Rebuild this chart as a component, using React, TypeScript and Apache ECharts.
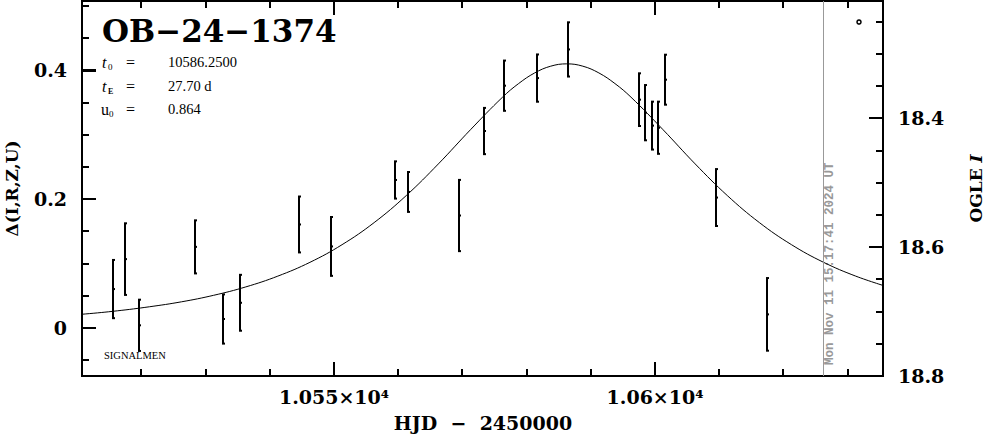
import React, { useEffect, useRef } from "react";
import * as echarts from "echarts";

// Observations (HJD - 2450000, magnitude excess, 1-sigma error)
const obsHJD = [10515.53, 10517.49, 10519.58, 10528.4, 10532.66, 10535.4, 10544.55, 10549.49, 10559.5, 10561.53, 10569.52, 10573.36, 10576.53, 10581.57, 10586.45, 10597.55, 10598.49, 10599.58, 10600.51, 10601.51, 10609.5, 10617.49];
const obsDelta = [0.0605, 0.107, 0.0042, 0.126, 0.014, 0.0392, 0.1608, 0.1267, 0.2299, 0.2113, 0.1747, 0.3059, 0.3763, 0.3881, 0.4326, 0.3546, 0.3344, 0.3143, 0.311, 0.3856, 0.2026, 0.0212];
const obsErr = [0.0452, 0.0556, 0.0398, 0.0412, 0.0382, 0.0434, 0.0434, 0.0457, 0.0289, 0.031, 0.0553, 0.0359, 0.039, 0.0367, 0.0421, 0.0409, 0.0429, 0.0372, 0.0405, 0.0388, 0.0442, 0.0564];

// Model light curve
const modelHJD = [10506.25, 10511.25, 10516.25, 10521.25, 10526.25, 10531.25, 10536.25, 10541.25, 10546.25, 10551.25, 10556.25, 10561.25, 10566.25, 10571.25, 10576.25, 10578.75, 10581.25, 10583.75, 10586.25, 10588.75, 10591.25, 10593.75, 10596.25, 10601.25, 10606.25, 10611.25, 10616.25, 10621.25, 10626.25, 10631.25, 10636.25];
const modelDelta = [0.018, 0.0218, 0.0267, 0.033, 0.0407, 0.0508, 0.0638, 0.0806, 0.102, 0.1294, 0.1637, 0.2057, 0.2548, 0.3079, 0.3585, 0.3796, 0.3961, 0.4066, 0.4102, 0.4066, 0.3961, 0.3796, 0.3585, 0.3079, 0.2548, 0.2057, 0.1637, 0.1294, 0.102, 0.0806, 0.0638];

// Current time marker
const nowHJD = 10626.14;
const nowLabel = "Mon Nov 11 15:17:41 2024 UT";

// Axes
const xMin = 10510.75;
const xMax = 10635.5;
const xMajor = [10550, 10600];
const xMinor = [10520, 10530, 10540, 10560, 10570, 10580, 10590, 10610, 10620, 10630];
const deltaMin = -0.0745;
const deltaMax = 0.5078;
const deltaMajor = [0, 0.2, 0.4];
const deltaMinor = [-0.05, 0.05, 0.1, 0.15, 0.25, 0.3, 0.35, 0.45, 0.5];
const magMax = 18.8; // OGLE I at the bottom of the frame (delta = deltaMin)
const magMajor = [18.4, 18.6, 18.8];
const magMinor = [18.25, 18.3, 18.35, 18.45, 18.5, 18.55, 18.65, 18.7, 18.75];

const title = "OB\u221224\u22121374";
const paramT0 = "10586.2500";
const paramTE = "27.70 d";
const paramU0 = "0.864";

const SERIF_B = "'DejaVu Serif', serif";
const SERIF = "'Liberation Serif', 'Times New Roman', serif";

const CHART_W = 986;
const CHART_H = 434;
const MAJOR_LEN = 14;
const MINOR_LEN = 7;

export default function App() {
  const ref = useRef<HTMLDivElement>(null);

  useEffect(() => {
    if (!ref.current) return;
    const chart = echarts.init(ref.current, null, { renderer: "svg" });

    const labelFont = { color: "#000", fontFamily: SERIF_B, fontWeight: "bold", fontSize: 19 };
    const magZero = magMax + deltaMin; // delta = magZero - mag

    // tick items: [x, y, side, length]; side 0 bottom, 1 top, 2 left, 3 right
    const tickItems: number[][] = [];
    const yIn = 0.2;
    const xIn = 10570;
    xMajor.forEach((v) => { tickItems.push([v, yIn, 0, MAJOR_LEN]); tickItems.push([v, yIn, 1, MAJOR_LEN]); });
    xMinor.forEach((v) => { tickItems.push([v, yIn, 0, MINOR_LEN]); tickItems.push([v, yIn, 1, MINOR_LEN]); });
    deltaMajor.forEach((d) => tickItems.push([xIn, d, 2, MAJOR_LEN]));
    deltaMinor.forEach((d) => tickItems.push([xIn, d, 2, MINOR_LEN]));
    magMajor.forEach((m) => tickItems.push([xIn, magZero - m, 3, MAJOR_LEN]));
    magMinor.forEach((m) => tickItems.push([xIn, magZero - m, 3, MINOR_LEN]));

    const tickEnds = (coord: (p: number[]) => number[], item: number[]) => {
      const [x, y, o, len] = item;
      if (o === 0) { const p = coord([x, deltaMin]); const xx = Math.round(p[0]); return [xx, p[1], xx, p[1] - len]; }
      if (o === 1) { const p = coord([x, deltaMax]); const xx = Math.round(p[0]); return [xx, p[1], xx, p[1] + len]; }
      if (o === 2) { const p = coord([xMin, y]); const yy = Math.round(p[1]); return [p[0], yy, p[0] + len, yy]; }
      const p = coord([xMax, y]); const yy = Math.round(p[1]); return [p[0], yy, p[0] - len, yy];
    };

    const errData = obsHJD.map((t, i) => [t, obsDelta[i], obsErr[i]]);
    const modelData = modelHJD.map((t, i) => [t, modelDelta[i]]);

    chart.setOption({
      animation: false,
      backgroundColor: "#fff",
      grid: { left: 82, right: 103, top: 1, bottom: 58, show: true, borderColor: "#000", borderWidth: 2, backgroundColor: "transparent" },
      xAxis: {
        type: "value",
        min: xMin,
        max: xMax,
        axisLine: { show: true, onZero: false, lineStyle: { color: "#000", width: 2 } },
        axisTick: { show: true, inside: true, length: MAJOR_LEN, customValues: xMajor, lineStyle: { color: "#000", width: 2 } },
        axisLabel: {
          customValues: xMajor,
          margin: 11,
          ...labelFont,
          formatter: (v: number) => `${v / 10000}\u00d710\u2074`,
        },
        splitLine: { show: false },
      },
      yAxis: {
        type: "value",
        min: deltaMin,
        max: deltaMax,
        axisLine: { show: true, onZero: false, lineStyle: { color: "#000", width: 2 } },
        axisTick: { show: true, inside: true, length: MAJOR_LEN, customValues: deltaMajor, lineStyle: { color: "#000", width: 2 } },
        axisLabel: {
          customValues: deltaMajor,
          margin: 15,
          ...labelFont,
          formatter: (v: number) => (v === 0 ? "0" : v.toFixed(1)),
        },
        splitLine: { show: false },
      },
      series: [
        {
          type: "line",
          data: modelData,
          smooth: 0.4,
          showSymbol: false,
          symbol: "none",
          lineStyle: { color: "#000", width: 1 },
          markLine: {
            symbol: "none",
            label: { show: false },
            data: [{ xAxis: nowHJD, lineStyle: { color: "#999", width: 1, type: "solid" } }],
          },
        },
        {
          type: "custom",
          data: errData,
          renderItem: (_params: any, api: any) => {
            const t = api.value(0);
            const d = api.value(1);
            const e = api.value(2);
            const top = api.coord([t, d + e]);
            const bot = api.coord([t, d - e]);
            const mid = api.coord([t, d]);
            const st = { stroke: "#000", lineWidth: 2 };
            const xx = Math.round(top[0]);
            return {
              type: "group",
              children: [
                { type: "line", shape: { x1: xx, y1: top[1], x2: xx, y2: bot[1] }, style: st },
                { type: "line", shape: { x1: xx - 1, y1: top[1], x2: xx + 2, y2: top[1] }, style: st },
                { type: "line", shape: { x1: xx - 1, y1: bot[1], x2: xx + 2, y2: bot[1] }, style: st },
                { type: "rect", shape: { x: xx - 1, y: mid[1] - 1, width: 3, height: 2 }, style: { fill: "#000" } },
              ],
            };
          },
        },
        {
          type: "custom",
          data: tickItems,
          renderItem: (_params: any, api: any) => {
            const item = [api.value(0), api.value(1), api.value(2), api.value(3)];
            const [x1, y1, x2, y2] = tickEnds((p) => api.coord(p), item);
            return { type: "line", shape: { x1, y1, x2, y2 }, style: { stroke: "#000", lineWidth: 2 } };
          },
        },
      ],
    });

    // pixel positions through the chart's own scales
    const toPx = (p: number[]) => chart.convertToPixel({ seriesIndex: 0 }, p) as number[];
    const tickGraphics = tickItems.map((item) => {
      const [x1, y1, x2, y2] = tickEnds(toPx, item);
      return { type: "line", silent: true, shape: { x1, y1, x2, y2 }, style: { stroke: "#000", lineWidth: 2 } };
    });
    const rightLabels = magMajor.map((m) => {
      const p = toPx([xMax, magZero - m]);
      return {
        type: "text",
        x: p[0] + 15,
        y: p[1],
        style: { text: m.toFixed(1), fontFamily: SERIF_B, fontWeight: "bold", fontSize: 19, fill: "#000", align: "left", verticalAlign: "middle" },
      };
    });
    const gridTop = toPx([xMin, deltaMax]);
    const gridBot = toPx([xMax, deltaMin]);
    const midY = (gridTop[1] + gridBot[1]) / 2;

    chart.setOption({
      graphic: [
        ...tickGraphics,
        ...rightLabels,
        {
          type: "text",
          x: 102,
          y: 31,
          style: { text: title, fontFamily: SERIF_B, fontWeight: "bold", fontSize: 31, fill: "#000", align: "left", verticalAlign: "middle" },
        },
        { type: "text", x: 102, y: 62, style: { text: "t", fontFamily: SERIF, fontStyle: "italic", fontSize: 16, fill: "#000", verticalAlign: "middle" } },
        { type: "text", x: 108, y: 67, style: { text: "0", fontFamily: SERIF, fontSize: 9, fill: "#000", verticalAlign: "middle" } },
        { type: "text", x: 126, y: 62, style: { text: "=", fontFamily: SERIF, fontSize: 16, fill: "#000", verticalAlign: "middle" } },
        { type: "text", x: 168, y: 62, style: { text: paramT0, fontFamily: SERIF, fontSize: 14.5, fill: "#000", verticalAlign: "middle" } },
        { type: "text", x: 102, y: 86, style: { text: "t", fontFamily: SERIF, fontStyle: "italic", fontSize: 16, fill: "#000", verticalAlign: "middle" } },
        { type: "text", x: 108, y: 91, style: { text: "E", fontFamily: SERIF, fontSize: 8, fontWeight: "bold", fill: "#000", verticalAlign: "middle" } },
        { type: "text", x: 126, y: 86, style: { text: "=", fontFamily: SERIF, fontSize: 16, fill: "#000", verticalAlign: "middle" } },
        { type: "text", x: 168, y: 86, style: { text: paramTE, fontFamily: SERIF, fontSize: 14.5, fill: "#000", verticalAlign: "middle" } },
        { type: "text", x: 101, y: 109, style: { text: "u", fontFamily: SERIF, fontSize: 16, fill: "#000", verticalAlign: "middle" } },
        { type: "text", x: 109, y: 114, style: { text: "0", fontFamily: SERIF, fontSize: 9, fill: "#000", verticalAlign: "middle" } },
        { type: "text", x: 126, y: 109, style: { text: "=", fontFamily: SERIF, fontSize: 16, fill: "#000", verticalAlign: "middle" } },
        { type: "text", x: 168, y: 109, style: { text: paramU0, fontFamily: SERIF, fontSize: 14.5, fill: "#000", verticalAlign: "middle" } },
        { type: "text", x: 104, y: 355, style: { text: "SIGNALMEN", fontFamily: SERIF, fontSize: 10.5, fill: "#000", verticalAlign: "middle" } },
        { type: "circle", shape: { cx: 859, cy: 22, r: 2 }, style: { fill: "#fff", stroke: "#000", lineWidth: 1.5 } },
        {
          type: "text",
          x: 830,
          y: 365,
          rotation: Math.PI / 2,
          style: { text: nowLabel, fontFamily: "'Liberation Mono', 'DejaVu Sans Mono', monospace", fontWeight: "bold", fontSize: 12.5, fill: "#999", align: "left", verticalAlign: "middle" },
        },
        {
          type: "text",
          x: 12,
          y: midY,
          rotation: Math.PI / 2,
          style: { text: "\u0394(I,R,Z,U)", fontFamily: SERIF_B, fontWeight: "bold", fontSize: 17, fill: "#000", align: "center", verticalAlign: "middle" },
        },
        {
          type: "text",
          x: 976,
          y: midY,
          rotation: Math.PI / 2,
          style: {
            text: "{a|OGLE }{b|I}",
            align: "center",
            verticalAlign: "middle",
            rich: {
              a: { fontFamily: SERIF_B, fontWeight: "bold", fontSize: 17, fill: "#000" },
              b: { fontFamily: SERIF_B, fontWeight: "bold", fontStyle: "italic", fontSize: 17, fill: "#000" },
            },
          },
        },
        {
          type: "text",
          x: 483,
          y: 423,
          style: { text: "HJD\u00a0\u00a0\u2212\u00a0\u00a02450000", fontFamily: SERIF_B, fontWeight: "bold", fontSize: 19, fill: "#000", align: "center", verticalAlign: "middle" },
        },
      ],
    });

    return () => chart.dispose();
  }, []);

  return <div ref={ref} style={{ position: "absolute", left: 0, top: 0, width: CHART_W, height: CHART_H }} />;
}
